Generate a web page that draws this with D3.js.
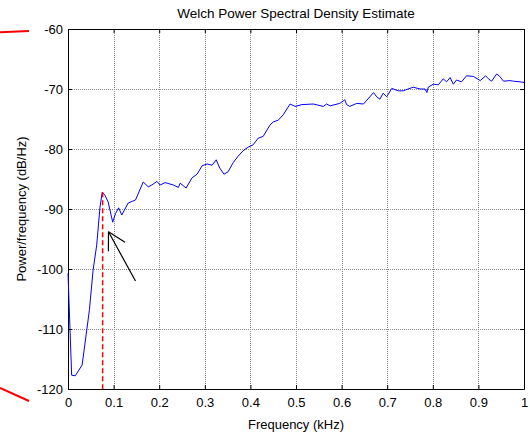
<!DOCTYPE html>
<html>
<head>
<meta charset="utf-8">
<script src="https://cdn.jsdelivr.net/npm/d3@7"></script>
<style>
  html, body { margin: 0; padding: 0; background: #fff; }
  svg { display: block; }
  text { font-family: "Liberation Sans", Arial, sans-serif; fill: #000; }
</style>
</head>
<body>
<svg id="chart" width="530" height="432"></svg>
<script>
// Welch PSD estimate, frequency in kHz, power in dB/Hz
const freq = [
  0.000, 0.008, 0.016, 0.031, 0.047, 0.055, 0.063, 0.070, 0.075, 0.081,
  0.088, 0.098, 0.104, 0.111, 0.118, 0.132, 0.148, 0.165, 0.176, 0.184,
  0.195, 0.202, 0.213, 0.231, 0.242, 0.246, 0.259, 0.272, 0.283, 0.294,
  0.305, 0.316, 0.325, 0.333, 0.342, 0.351, 0.362, 0.373, 0.384, 0.395,
  0.406, 0.417, 0.428, 0.443, 0.450, 0.461, 0.472, 0.487, 0.498, 0.513,
  0.538, 0.560, 0.567, 0.575, 0.596, 0.607, 0.611, 0.618, 0.633, 0.648,
  0.670, 0.677, 0.684, 0.691, 0.699, 0.710, 0.724, 0.735, 0.757, 0.772,
  0.783, 0.787, 0.790, 0.801, 0.812, 0.823, 0.830, 0.838, 0.845, 0.852,
  0.863, 0.874, 0.889, 0.904, 0.916, 0.922, 0.929, 0.940, 0.947, 0.955,
  0.969, 0.977, 0.991, 1.000
];
const power = [
  -100.7, -117.7, -117.8, -116.0, -106.8, -100.2, -96.0, -89.8, -87.2, -87.7,
  -88.8, -92.2, -90.8, -89.8, -91.0, -89.0, -88.5, -85.5, -86.3, -86.0,
  -85.4, -86.0, -85.6, -86.0, -86.4, -85.7, -86.5, -84.8, -84.2, -82.8,
  -82.5, -82.7, -81.8, -83.2, -84.2, -83.8, -82.3, -81.2, -80.3, -79.7,
  -79.3, -78.2, -77.9, -76.0, -75.5, -75.2, -74.3, -72.5, -72.9, -72.6,
  -72.5, -72.9, -72.5, -72.8, -72.4, -71.8, -72.6, -72.9, -72.4, -72.5,
  -70.6, -71.3, -71.7, -70.7, -71.3, -69.9, -70.3, -70.3, -69.7, -70.0,
  -70.0, -70.6, -69.7, -69.2, -69.3, -68.3, -68.8, -68.1, -69.2, -68.5,
  -68.8, -67.8, -67.9, -68.6, -67.8, -68.3, -68.7, -67.5, -67.9, -68.7,
  -68.6, -68.7, -68.8, -68.9
];

const xTicks = [0, 0.1, 0.2, 0.3, 0.4, 0.5, 0.6, 0.7, 0.8, 0.9, 1];
const yTicks = [-120, -110, -100, -90, -80, -70, -60];

// spectral peak marker (dashed drop line)
const peakFreq = 0.076;
const peakPower = -87.2;

// arrow pointing at the notch after the peak: [freq, power] tail -> tip
const arrowTail = [0.148, -102.0];
const arrowTip = [0.0888, -93.8];

// red annotation strokes at the left margin: [freq, power] pairs
const redStrokes = [
  [[-0.149, -60.55], [-0.0855, -60.33]],
  [[-0.149, -119.83], [-0.0855, -122.0]]
];

const title = "Welch Power Spectral Density Estimate";
const xLabel = "Frequency (kHz)";
const yLabel = "Power/frequency (dB/Hz)";

const plot = { left: 68, right: 524, top: 29, bottom: 389 };

const svg = d3.select("#chart");
const x = d3.scaleLinear().domain([0, 1]).range([plot.left, plot.right]);
const y = d3.scaleLinear().domain([-120, -60]).range([plot.bottom, plot.top]);

// dotted grid
const grid = svg.append("g")
  .attr("stroke", "#8c8c8c")
  .attr("stroke-width", 1)
  .attr("stroke-dasharray", "1,1")
  .attr("shape-rendering", "crispEdges");
grid.selectAll("line.gx").data(xTicks.slice(1, -1)).join("line")
  .attr("x1", d => Math.round(x(d)) + 0.5).attr("x2", d => Math.round(x(d)) + 0.5)
  .attr("y1", plot.top).attr("y2", plot.bottom);
grid.selectAll("line.gy").data(yTicks.slice(1, -1)).join("line")
  .attr("y1", d => Math.round(y(d)) + 0.5).attr("y2", d => Math.round(y(d)) + 0.5)
  .attr("x1", plot.left).attr("x2", plot.right);

// axes with inward ticks on all four sides
const fmtX = d => String(+d.toFixed(1));
const fmtY = d => String(d);
const axB = d3.axisBottom(x).tickValues(xTicks).tickSizeInner(-4).tickSizeOuter(0).tickPadding(9).tickFormat(fmtX);
const axT = d3.axisTop(x).tickValues(xTicks).tickSizeInner(-4).tickSizeOuter(0).tickFormat("");
const axL = d3.axisLeft(y).tickValues(yTicks).tickSizeInner(-4).tickSizeOuter(0).tickPadding(5).tickFormat(fmtY);
const axR = d3.axisRight(y).tickValues(yTicks).tickSizeInner(-4).tickSizeOuter(0).tickFormat("");

function styleAxis(g) {
  g.select(".domain").attr("stroke", "#000").attr("stroke-width", 1);
  g.selectAll(".tick line").attr("stroke", "#000");
  g.selectAll(".tick text").attr("font-size", 13).attr("fill", "#000")
    .attr("font-family", '"Liberation Sans", Arial, sans-serif');
}
svg.append("g").attr("transform", `translate(0,${plot.bottom})`).call(axB).call(styleAxis);
svg.append("g").attr("transform", `translate(0,${plot.top})`).call(axT).call(styleAxis);
svg.append("g").attr("transform", `translate(${plot.left},0)`).call(axL).call(styleAxis);
svg.append("g").attr("transform", `translate(${plot.right},0)`).call(axR).call(styleAxis);

// PSD curve
const pts = freq.map((f, i) => [f, power[i]]);
svg.append("path")
  .datum(pts)
  .attr("fill", "none")
  .attr("stroke", "#0000ff")
  .attr("stroke-width", 1)
  .attr("stroke-linejoin", "round")
  .attr("d", d3.line().x(d => x(d[0])).y(d => y(d[1])));

// dashed drop line at the peak
svg.append("line")
  .attr("x1", x(peakFreq)).attr("x2", x(peakFreq))
  .attr("y1", y(peakPower)).attr("y2", y(-120))
  .attr("stroke", "#ff0000")
  .attr("stroke-width", 1.5)
  .attr("stroke-dasharray", "5,3");

// arrow
const ax0 = x(arrowTail[0]), ay0 = y(arrowTail[1]);
const ax1 = x(arrowTip[0]), ay1 = y(arrowTip[1]);
const ang = Math.atan2(ay0 - ay1, ax0 - ax1);
const headLen = 19.5, headAng = 29 * Math.PI / 180;
const arrow = svg.append("g").attr("stroke", "#000").attr("stroke-width", 1.2).attr("fill", "none");
arrow.append("line").attr("x1", ax0).attr("y1", ay0).attr("x2", ax1).attr("y2", ay1);
[ang - headAng, ang + headAng].forEach(a => {
  arrow.append("line")
    .attr("x1", ax1).attr("y1", ay1)
    .attr("x2", ax1 + headLen * Math.cos(a)).attr("y2", ay1 + headLen * Math.sin(a));
});

// red strokes at the left margin
svg.append("g").selectAll("line").data(redStrokes).join("line")
  .attr("x1", d => x(d[0][0])).attr("y1", d => y(d[0][1]))
  .attr("x2", d => x(d[1][0])).attr("y2", d => y(d[1][1]))
  .attr("stroke", "#ff0000").attr("stroke-width", 2);

// titles
svg.append("text")
  .attr("x", (plot.left + plot.right) / 2).attr("y", 18)
  .attr("text-anchor", "middle").attr("font-size", 13.5)
  .text(title);
svg.append("text")
  .attr("x", (plot.left + plot.right) / 2).attr("y", 429)
  .attr("text-anchor", "middle").attr("font-size", 13)
  .text(xLabel);
svg.append("text")
  .attr("transform", `translate(25.5,${(plot.top + plot.bottom) / 2}) rotate(-90)`)
  .attr("text-anchor", "middle").attr("font-size", 13)
  .text(yLabel);
</script>
</body>
</html>
